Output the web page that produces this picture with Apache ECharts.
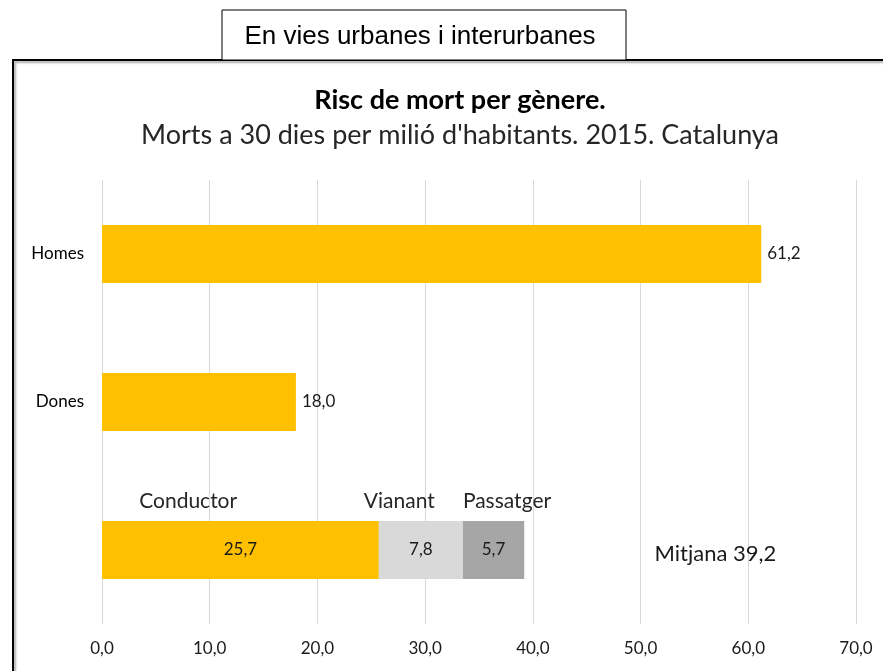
<!DOCTYPE html>
<html>
<head>
<meta charset="utf-8">
<script src="https://cdn.jsdelivr.net/npm/echarts@6/dist/echarts.min.js"></script>
<style>
  html, body { margin: 0; padding: 0; background: #fff; }
  #chart { width: 883px; height: 671px; }
</style>
</head>
<body>
<div id="chart"></div>
<script>
// dades
var categories = ['Homes', 'Dones', ''];
var totals = [61.2, 18.0, '-'];
var conductor = ['-', '-', 25.7];
var vianant = ['-', '-', 7.8];
var passatger = ['-', '-', 5.7];
var segmentNames = ['Conductor', 'Vianant', 'Passatger'];
var mitjana = 39.2;

var fmt = function(v) {
  return Number(v).toFixed(1).replace('.', ',');
};

var chart = echarts.init(document.getElementById('chart'));

var innerLabel = {
  show: true,
  position: 'inside',
  color: '#1a1a1a',
  fontFamily: 'Lato',
  fontSize: 17,
  formatter: function(p) { return fmt(p.value); }
};

var option = {
  animation: false,
  backgroundColor: '#fff',
  title: {
    text: '{b|Risc de mort per gènere}{n|.}',
    subtext: "Morts a 30 dies per milió d'habitants. 2015. Catalunya",
    left: 455,
    textAlign: 'center',
    top: 82,
    itemGap: 8,
    textStyle: {
      rich: {
        b: { fontFamily: 'Lato', fontSize: 27, fontWeight: 'bold', color: '#000' },
        n: { fontFamily: 'Lato', fontSize: 27, color: '#000' }
      }
    },
    subtextStyle: { fontFamily: 'Lato', fontSize: 27, color: '#262626' }
  },
  grid: { left: 102, right: 27, top: 180, bottom: 47, containLabel: false },
  xAxis: {
    type: 'value',
    min: 0,
    max: 70,
    interval: 10,
    axisLine: { show: false },
    axisTick: { show: false },
    axisLabel: {
      color: '#1a1a1a',
      fontFamily: 'Lato',
      fontSize: 17,
      margin: 16,
      formatter: function(v) { return fmt(v); }
    },
    splitLine: { lineStyle: { color: '#d9d9d9', width: 1 } }
  },
  yAxis: {
    type: 'category',
    inverse: true,
    data: categories,
    axisLine: { show: false },
    axisTick: { show: false },
    axisLabel: { color: '#000', fontFamily: 'Lato', fontSize: 17, margin: 18 }
  },
  series: [{
    name: 'Total',
    type: 'bar',
    stack: 'a',
    barWidth: 58,
    data: totals,
    itemStyle: { color: '#ffc000' },
    label: {
      show: true,
      position: 'right',
      distance: 6,
      color: '#1a1a1a',
      fontFamily: 'Lato',
      fontSize: 17,
      formatter: function(p) { return fmt(p.value); }
    }
  }, {
    name: segmentNames[0],
    type: 'bar',
    stack: 'a',
    barWidth: 58,
    data: conductor,
    itemStyle: { color: '#ffc000' },
    label: innerLabel
  }, {
    name: segmentNames[1],
    type: 'bar',
    stack: 'a',
    barWidth: 58,
    data: vianant,
    itemStyle: { color: '#d9d9d9' },
    label: innerLabel
  }, {
    name: segmentNames[2],
    type: 'bar',
    stack: 'a',
    barWidth: 58,
    data: passatger,
    itemStyle: { color: '#a6a6a6' },
    label: innerLabel
  }],
  graphic: [{
    type: 'rect',
    shape: { x: 13, y: 60, width: 900, height: 700 },
    style: { fill: 'none', stroke: '#000', lineWidth: 2, shadowColor: 'rgba(0,0,0,0.35)', shadowOffsetX: 2, shadowOffsetY: 2, shadowBlur: 2 },
    z: 0
  }, {
    type: 'rect',
    shape: { x: 222, y: 10, width: 404, height: 50 },
    style: { fill: '#fff', stroke: '#000', lineWidth: 1 },
    z: 10
  }, {
    type: 'text',
    x: 420,
    y: 37,
    style: {
      text: 'En vies urbanes i interurbanes',
      fontFamily: 'Liberation Sans',
      fontSize: 26,
      fill: '#000',
      align: 'center',
      verticalAlign: 'middle'
    },
    z: 11
  }]
};

chart.setOption(option);

// etiquetes dels segments i la mitjana, posicionades amb l'escala
var labelX = [8.0, 27.6, 37.6];
var extra = [];
for (var i = 0; i < segmentNames.length; i++) {
  var pt = chart.convertToPixel({ gridIndex: 0 }, [labelX[i], 2]);
  extra.push({
    type: 'text',
    x: pt[0],
    y: pt[1] - 49,
    style: {
      text: segmentNames[i],
      fontFamily: 'Lato',
      fontSize: 21,
      fill: '#262626',
      align: 'center',
      verticalAlign: 'middle'
    },
    z: 12
  });
}
var mp = chart.convertToPixel({ gridIndex: 0 }, [51.3, 2]);
extra.push({
  type: 'text',
  x: mp[0],
  y: mp[1] + 4,
  style: {
    text: 'Mitjana ' + fmt(mitjana),
    fontFamily: 'Lato',
    fontSize: 22,
    fill: '#1a1a1a',
    align: 'left',
    verticalAlign: 'middle'
  },
  z: 12
});
chart.setOption({ graphic: option.graphic.concat(extra) });
</script>
</body>
</html>
